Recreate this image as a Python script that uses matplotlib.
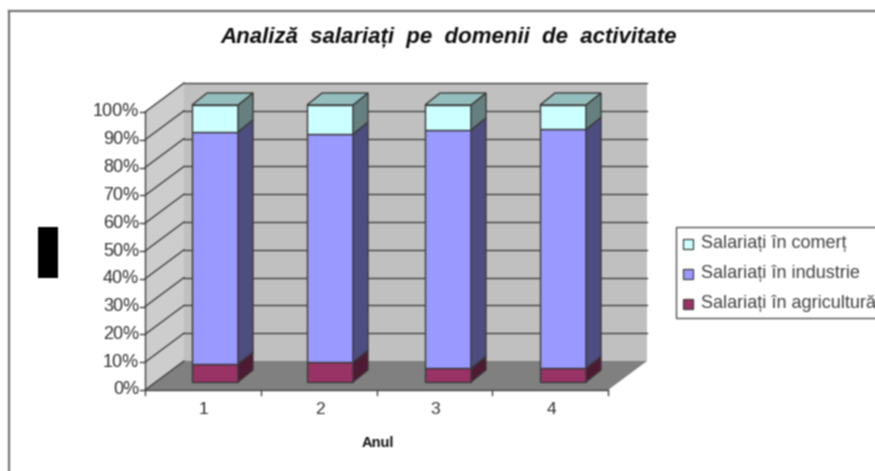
import numpy as np
import matplotlib
matplotlib.use("Agg")
import matplotlib.pyplot as plt
from matplotlib.patches import Polygon, Rectangle

plt.rcParams["font.family"] = ["Liberation Sans", "DejaVu Sans"]

# ── data ──
years = ["1", "2", "3", "4"]
agricultura = [6.5, 7.2, 5.0, 5.0]
industrie = [83.8, 82.3, 86.0, 86.2]
comert = [9.7, 10.5, 9.0, 8.8]
series_names = ["Salariați în comerț", "Salariați în industrie", "Salariați în agricultură"]
y_ticks = [0, 10, 20, 30, 40, 50, 60, 70, 80, 90, 100]

# ── chart geometry in pixels ──
X0, X1 = 145, 608          # front edge of the floor
Y0, Y100 = 390, 112        # front edge of the side wall
DX, DY = 39, -29           # depth of the box
BAR_LEFT = [192, 307, 425, 540]
BAR_W = 46
BAR_Y0, BAR_Y100 = 382, 105
BAR_DX, BAR_DY = 15, -12

EDGE = "#3c3c3c"
BACK = "#c0c0c0"
SIDE = "#cdcdcd"
FLOOR = "#808080"
COLORS = {
    "comert": ("#ccffff", "#667f7f", "#94bdbd"),
    "industrie": ("#9999ff", "#4d4d80", "#9999ff"),
    "agricultura": ("#993366", "#4d1a33", "#993366"),
}


def blur(image, dpi):
    # soften everything, the reference is an upscaled bitmap
    # pad with the edge values so the picture border does not go dark
    out = np.pad(image, 1, mode="edge")[:, :, 1:-1]
    out = 0.46 * out + 0.27 * (np.roll(out, 1, axis=0) + np.roll(out, -1, axis=0))
    out = 0.46 * out + 0.27 * (np.roll(out, 1, axis=1) + np.roll(out, -1, axis=1))
    return out[1:-1, 1:-1], 0, 0


def bar_y(v):
    return BAR_Y0 + (BAR_Y100 - BAR_Y0) * v / 100


def axis_y(v):
    return Y0 + (Y100 - Y0) * v / 100


def poly(ax, pts, fc, ec=EDGE, lw=1.0, z=2):
    ax.add_patch(Polygon(pts, closed=True, facecolor=fc, edgecolor=ec, linewidth=lw, zorder=z))


def draw_segment(ax, left, v0, v1, colors, top=False):
    right = left + BAR_W
    y0, y1 = bar_y(v0), bar_y(v1)
    front, side, cap = colors
    poly(ax, [(left, y0), (right, y0), (right, y1), (left, y1)], front, z=4)
    poly(ax, [(right, y0), (right + BAR_DX, y0 + BAR_DY), (right + BAR_DX, y1 + BAR_DY), (right, y1)], side, z=4)
    if top:
        poly(ax, [(left, y1), (right, y1), (right + BAR_DX, y1 + BAR_DY), (left + BAR_DX, y1 + BAR_DY)], cap, z=4)


fig = plt.figure(figsize=(8.75, 4.71), dpi=100)
ax = fig.add_axes([0, 0, 1, 1])
ax.set_xlim(0, 875)
ax.set_ylim(471, 0)
ax.axis("off")
ax.add_patch(Rectangle((-5, -5), 885, 481, facecolor="white", edgecolor="none", zorder=0))

# chart frame, only top and left show up
ax.plot([9, 880], [11, 11], color="#777777", lw=1.6, zorder=1)
ax.plot([9, 9], [11, 476], color="#777777", lw=1.6, zorder=1)

# box: back wall, side wall, floor
poly(ax, [(X0 + DX, Y100 + DY), (X1 + DX, Y100 + DY), (X1 + DX, Y0 + DY), (X0 + DX, Y0 + DY)], BACK, ec="none", z=1)
poly(ax, [(X0, Y100), (X0 + DX, Y100 + DY), (X0 + DX, Y0 + DY), (X0, Y0)], SIDE, ec="none", z=1)
poly(ax, [(X0, Y0), (X1, Y0), (X1 + DX, Y0 + DY), (X0 + DX, Y0 + DY)], FLOOR, ec="none", z=2)

# gridlines run along the side wall and the back wall
for v in y_ticks:
    y = axis_y(v)
    ax.plot([X0, X0 + DX], [y, y + DY], color="#444444", lw=1.0, zorder=2)
    if v > 0:
        ax.plot([X0 + DX, X1 + DX], [y + DY, y + DY], color="#444444", lw=1.0, zorder=2)
    ax.plot([X0 - 5, X0], [y, y], color="#444444", lw=1.0, zorder=3)
    ax.text(X0 - 6, y, f"{v}%", ha="right", va="center", fontsize=13, color="#333333", zorder=5)

# axes lines and ticks
ax.plot([X0, X0], [Y100, Y0], color="#444444", lw=1.0, zorder=3)
ax.plot([X0, X1], [Y0, Y0], color="#444444", lw=1.0, zorder=3)
step = (X1 - X0) / len(years)
for i in range(len(years) + 1):
    ax.plot([X0 + i * step] * 2, [Y0, Y0 + 5], color="#444444", lw=1.0, zorder=3)
for i, name in enumerate(years):
    ax.text(X0 + (i + 0.5) * step + 1, 410, name, ha="center", va="center", fontsize=12.5, color="#333333")

# stacked bars
for i, left in enumerate(BAR_LEFT):
    a, b, c = agricultura[i], industrie[i], comert[i]
    draw_segment(ax, left, 0, a, COLORS["agricultura"])
    draw_segment(ax, left, a, a + b, COLORS["industrie"])
    draw_segment(ax, left, a + b, a + b + c, COLORS["comert"], top=True)

ax.text(449, 38, "Analiză  salariați  pe  domenii  de  activitate", ha="center", va="center",
        fontsize=16, fontweight="bold", fontstyle="italic", color="#111111")
ax.text(378, 443, "Anul", ha="center", va="center", fontsize=10.5, fontweight="bold", color="#111111")

# black block where the rotated y title was
ax.add_patch(Rectangle((38, 227), 20, 51, facecolor="black", edgecolor="none", zorder=3))

# legend, cut off by the right edge like in the reference
ax.add_patch(Rectangle((676, 227), 260, 91, facecolor="white", edgecolor="#555555", linewidth=1.0, zorder=3))
for name, key, y in zip(series_names, ["comert", "industrie", "agricultura"], [243, 273, 303]):
    ax.add_patch(Rectangle((683, y - 4), 10, 10, facecolor=COLORS[key][0], edgecolor="#444444", linewidth=0.9, zorder=4))
    ax.text(701, y, name, ha="left", va="center", fontsize=13, color="#444444", zorder=4)

ax.set_agg_filter(blur)

fig.savefig("out.png", dpi=100)
